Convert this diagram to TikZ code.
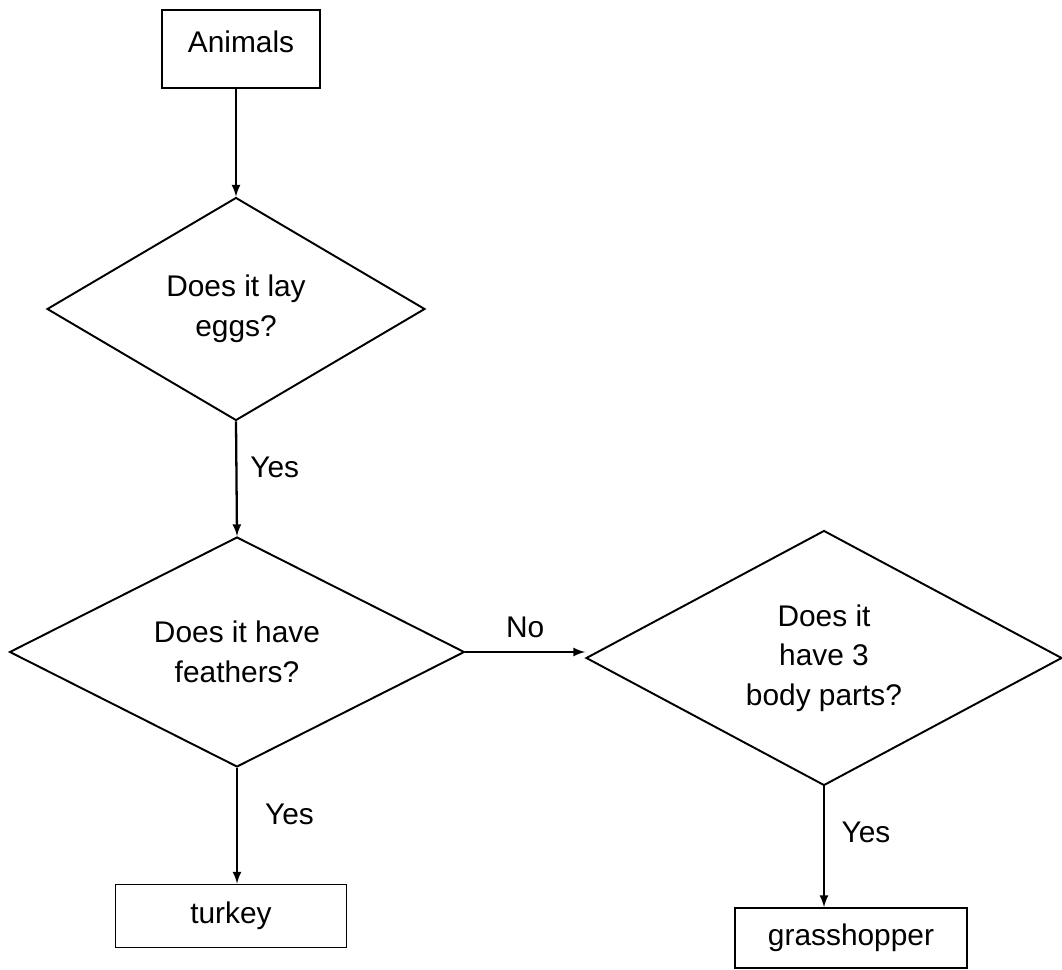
\documentclass[tikz,border=0pt]{standalone}
\usepackage{fontspec}
\setmainfont{Liberation Sans}
\usetikzlibrary{shapes.geometric}
\tikzset{every node/.style={font=\fontsize{17}{22.5}\selectfont}}
\tikzset{
  box/.style={draw, line width=1.1pt, inner sep=0pt, align=center},
  ask/.style={draw, diamond, line width=1.1pt, inner sep=0pt, aspect=2, align=center},
  flow/.style={->, >=latex, line width=1.3pt},
}
\def\Px{0.02}

\begin{document}
\begin{tikzpicture}[x=\Px cm, y=-\Px cm]
  % page size
  \useasboundingbox (0,0) rectangle (1062,970);

  % boxes and questions
  \node[box, minimum width=3.16cm, minimum height=1.56cm, text depth=0.28cm] (animals) at (241,49) {Animals};
  \node[ask, minimum width=7.56cm, minimum height=4.46cm] (eggs) at (236,309) {Does it lay\\eggs?};
  \node[ask, minimum width=9.1cm, minimum height=4.6cm] (feathers) at (237,652) {Does it have\\feathers?};
  \node[ask, minimum width=9.52cm, minimum height=5.1cm] (parts) at (824,658) {Does it\\have 3\\body parts?};
  \node[box, minimum width=4.62cm, minimum height=1.26cm] (turkey) at (231,916) {turkey};
  \node[box, minimum width=4.64cm, minimum height=1.2cm] (hopper) at (851,938) {grasshopper};

  % arrows
  \draw[flow] (eggs.north |- animals.south) -- (eggs.north);
  \draw[flow] (eggs.south) -- (feathers.north)
    node[pos=0.4, right, xshift=4pt] {Yes};
  \draw[flow] (feathers.east) -- (feathers.east -| parts.west)
    node[midway, above, yshift=4pt] {No};
  \draw[flow] (feathers.south) -- (feathers.south |- turkey.north)
    node[pos=0.4, right, xshift=12pt] {Yes};
  \draw[flow] (parts.south) -- (parts.south |- hopper.north)
    node[pos=0.38, right, xshift=6pt] {Yes};

\end{tikzpicture}
\end{document}
